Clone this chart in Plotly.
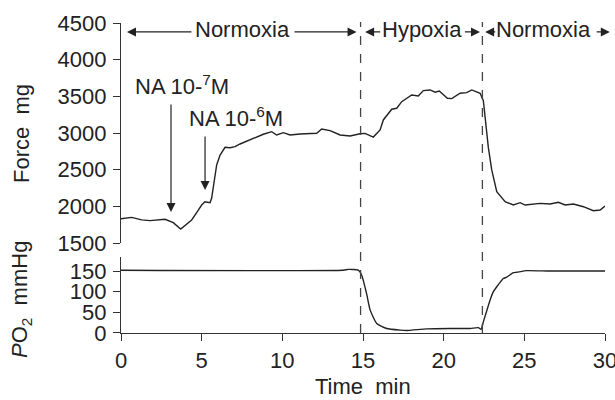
import plotly.graph_objects as go

# ---- data ----
force_t = [0, 0.66, 1.28, 1.8, 2.73, 3.24, 3.7, 4.38, 4.73, 5.0, 5.2, 5.52, 5.62, 5.93, 6.14, 6.45,
           6.76, 7.07, 7.38, 7.58, 8.31, 8.82, 9.34, 9.65, 10.06, 10.48, 11.1, 11.72, 12.13, 12.44,
           12.96, 13.58, 14.2, 14.82, 15.13, 15.64, 16.06, 16.26, 16.78, 17.09, 17.4, 18.02, 18.43,
           18.74, 19.16, 19.47, 19.73, 20.23, 20.5, 21.02, 21.43, 21.74, 22.26, 22.46, 22.77, 22.98,
           23.29, 23.81, 24.32, 24.74, 25.05, 25.98, 26.6, 27.11, 27.53, 28.04, 28.66, 29.28, 29.7, 30]
force_mg = [1830, 1850, 1815, 1805, 1823, 1777, 1690, 1814, 1927, 2018, 2063, 2050, 2114, 2564, 2700, 2805,
            2800, 2814, 2850, 2868, 2928, 2983, 3018, 2973, 3004, 2973, 2987, 2996, 2996, 3055,
            3032, 2973, 2960, 2990, 2995, 2945, 3041, 3178, 3324, 3337, 3427, 3519, 3505,
            3578, 3587, 3556, 3573, 3474, 3469, 3542, 3551, 3587, 3542, 3440, 2800, 2496,
            2200, 2063, 2018, 2050, 2018, 2041, 2032, 2055, 2018, 2032, 1995, 1941, 1950, 2005]

po2_t = [0, 13.78, 14.09, 14.71, 14.92, 15.23, 15.44, 15.85, 16.47, 17.3, 17.71, 18.95, 20.4, 21.64,
         22.15, 22.32, 22.46, 22.88, 23.08, 23.29, 23.7, 23.91, 24.32, 24.53, 25.15, 26.6, 30]
po2_mmhg = [152, 152, 154, 152, 140, 94, 56, 23, 11, 7, 6, 10, 11, 11,
            13, 9, 27, 80, 100, 112, 132, 135, 146, 147, 151, 150, 150]

phase_labels = ["Normoxia", "Hypoxia", "Normoxia"]
phase_changes = [14.85, 22.4]

x_ticks = [0, 5, 10, 15, 20, 25, 30]
force_ticks = [1500, 2000, 2500, 3000, 3500, 4000, 4500]
po2_ticks = [0, 50, 100, 150]

# ---- figure ----
FONT = "Liberation Sans, Arial, sans-serif"
INK = "#222222"
FS = 22
fig = go.Figure()
fig.add_trace(go.Scatter(x=force_t, y=force_mg, mode="lines", xaxis="x", yaxis="y",
                         line=dict(color=INK, width=1.4), showlegend=False))
fig.add_trace(go.Scatter(x=po2_t, y=po2_mmhg, mode="lines", xaxis="x2", yaxis="y2",
                         line=dict(color=INK, width=1.4, shape="spline", smoothing=0.5),
                         showlegend=False))

axis_common = dict(showgrid=False, zeroline=False, linecolor="#333", linewidth=1.3,
                   ticks="outside", ticklen=7, tickwidth=1.3, tickcolor="#333",
                   ticklabeloverflow="allow", automargin=False,
                   tickfont=dict(family=FONT, size=FS, color=INK))

fig.update_layout(
    width=615, height=400, margin=dict(l=121, r=10, t=23, b=67, autoexpand=False),
    paper_bgcolor="white", plot_bgcolor="white",
    xaxis=dict(domain=[0, 1], range=[0, 30], anchor="y", visible=False),
    yaxis=dict(domain=[0.2903, 1], range=[1500, 4500], tickvals=force_ticks, showline=True,
               anchor="x", ticklabelstandoff=2, **axis_common),
    xaxis2=dict(domain=[0, 1], range=[0, 30], anchor="y2", tickvals=x_ticks, showline=True,
                matches="x", **axis_common),
    yaxis2=dict(domain=[0, 0.2452], range=[0, 184], tickvals=po2_ticks, showline=True,
                anchor="x2", ticklabelstandoff=2, **axis_common),
)

# dashed phase-change lines
for pc in phase_changes:
    fig.add_shape(type="line", xref="x", yref="paper", x0=pc, x1=pc, y0=0, y1=1.003,
                  line=dict(color="#444", width=1.3, dash="dash"))

ann = []
txtfont = dict(family=FONT, size=FS, color=INK)
yarr = 4378
# phase labels with arrows: (text centre, left head, left tail, right tail, right head)
phase_geo = [(7.53, 0.37, 4.46, 10.66, 14.6),
             (18.64, 15.13, 16.16, 21.22, 22.25),
             (26.2, 22.57, 23.29, 29.39, 30.3)]
arrow_style = dict(text="", showarrow=True, arrowhead=2, arrowsize=1.5, arrowwidth=1.2,
                   arrowcolor=INK, standoff=0, startstandoff=0)
for lab, (xc, lh, lt, rt, rh) in zip(phase_labels, phase_geo):
    ann.append(dict(x=xc, y=yarr, xref="x", yref="y", text=lab, showarrow=False, font=txtfont,
                    yshift=2))
    for head, tail in ((lh, lt), (rh, rt)):
        ann.append(dict(x=head, y=yarr, xref="x", yref="y", ax=tail, ay=yarr, axref="x",
                        ayref="y", **arrow_style))

# NA annotations
ann.append(dict(x=3.75, y=3650, xref="x", yref="y", text="NA 10-<sup>7</sup>M", showarrow=False,
                font=txtfont))
ann.append(dict(x=3.1, y=1923, ax=3.1, ay=3410, xref="x", yref="y", axref="x", ayref="y",
                **arrow_style))
ann.append(dict(x=7.13, y=3225, xref="x", yref="y", text="NA 10-<sup>6</sup>M", showarrow=False,
                font=txtfont))
ann.append(dict(x=5.21, y=2223, ax=5.21, ay=2973, xref="x", yref="y", axref="x", ayref="y",
                **arrow_style))

# axis titles
ann.append(dict(x=(21 - 121) / 484, y=(333 - 134) / 310, xref="paper", yref="paper",
                text="Force  mg", textangle=-90, showarrow=False, font=txtfont,
                xanchor="center", yanchor="middle"))
ann.append(dict(x=(21 - 121) / 484, y=(333 - 300) / 310, xref="paper", yref="paper",
                text="<i>P</i>O<sub>2</sub>  mmHg", textangle=-90, showarrow=False, font=txtfont,
                xanchor="center", yanchor="middle"))
ann.append(dict(x=0.5, y=(333 - 386) / 310, xref="paper", yref="paper", text="Time  min",
                showarrow=False, font=txtfont, xanchor="center", yanchor="middle"))
fig.update_layout(annotations=ann)

fig.write_html("out.html")
